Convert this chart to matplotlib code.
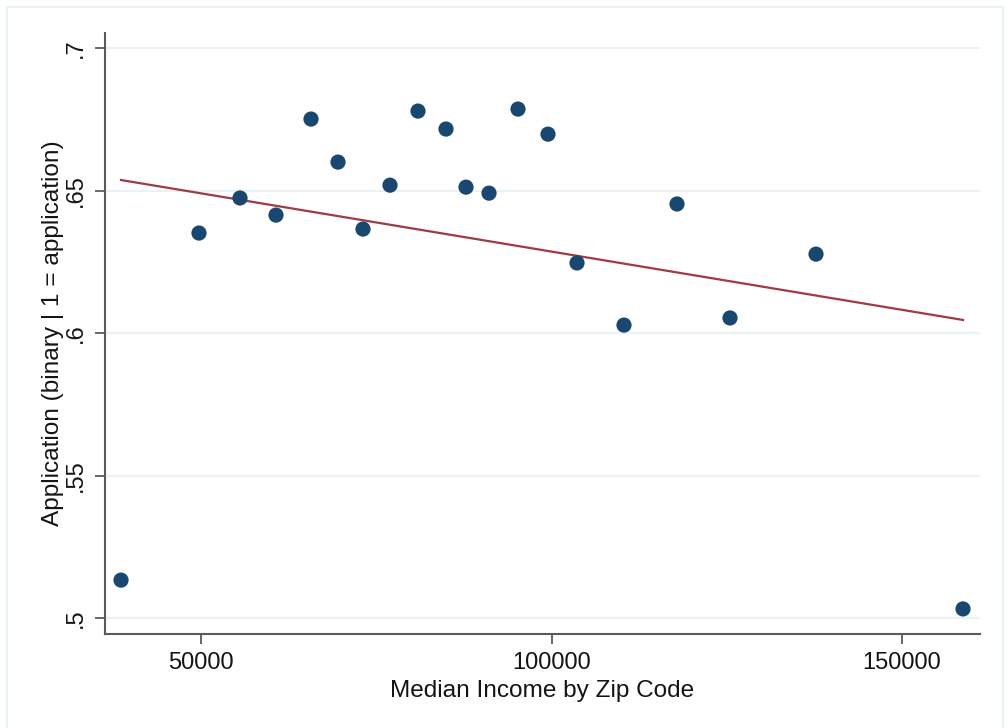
import matplotlib
matplotlib.use("Agg")
import matplotlib.pyplot as plt
from matplotlib.patches import Rectangle
import numpy as np

plt.rcParams['font.family'] = ['Liberation Sans', 'DejaVu Sans']

# Binned means of application rate by zip-code median income
income = [38588, 49715, 55563, 60699, 65692, 69544, 73110, 76961, 80956, 84950,
          87803, 91084, 95221, 99501, 103638, 110342, 117903, 125464, 137732, 158702]
application = [0.5133, 0.6351, 0.6474, 0.6414, 0.6751, 0.6600, 0.6365, 0.6519, 0.6779, 0.6716,
               0.6512, 0.6491, 0.6786, 0.6698, 0.6246, 0.6028, 0.6453, 0.6053, 0.6277, 0.5032]

# Linear fit (estimated on the underlying observations)
fit_intercept = 0.66948
fit_slope = -4.088e-7

x_ticks = [50000, 100000, 150000]
x_tick_labels = ["50000", "100000", "150000"]
y_ticks = [0.5, 0.55, 0.6, 0.65, 0.7]
y_tick_labels = [".5", ".55", ".6", ".65", ".7"]

W, H = 1008, 728
fig = plt.figure(figsize=(W / 100, H / 100), dpi=100)
fig.patch.set_facecolor("white")

# light outer frame around the graph region
fig.patches.append(Rectangle((7 / W, -0.05), (1003 - 7) / W, 1.05 - 7 / H,
                             transform=fig.transFigure, fill=False,
                             edgecolor="#eaf2f3", linewidth=1.6, zorder=0))

ax = fig.add_axes([105 / W, 1 - 634 / H, (980 - 105) / W, (634 - 33) / H])
ax.set_facecolor("white")

grid_color = "#eaf2f3"
for yv in y_ticks:
    ax.axhline(yv, color=grid_color, linewidth=1.6, zorder=0)

ax.scatter(income, application, s=120, color="#1a476f", edgecolors="none", zorder=3)

fx = np.array([min(income), max(income)])
ax.plot(fx, fit_intercept + fit_slope * fx, color="#a03a45", linewidth=1.6, zorder=2)

ax.set_xlim(36305, 161127)
ax.set_ylim(0.4944, 0.7053)

ax.set_xticks(x_ticks)
ax.set_xticklabels(x_tick_labels)
ax.set_yticks(y_ticks)
ax.set_yticklabels(y_tick_labels, rotation=90, va="center")

text_color = "#141414"
spine_color = "#5a5a5a"
for side in ["top", "right"]:
    ax.spines[side].set_visible(False)
for side in ["left", "bottom"]:
    ax.spines[side].set_color(spine_color)
    ax.spines[side].set_linewidth(1.5)

ax.tick_params(axis="both", direction="out", length=7, width=1.3, color=spine_color,
               labelsize=17, labelcolor=text_color, pad=6)

ax.set_xlabel("Median Income by Zip Code", fontsize=17.6, color=text_color, labelpad=4)
ax.set_ylabel("Application (binary | 1 = application)", fontsize=17.6, color=text_color, labelpad=0.5)

fig.savefig("out.png", dpi=100, facecolor="white")
